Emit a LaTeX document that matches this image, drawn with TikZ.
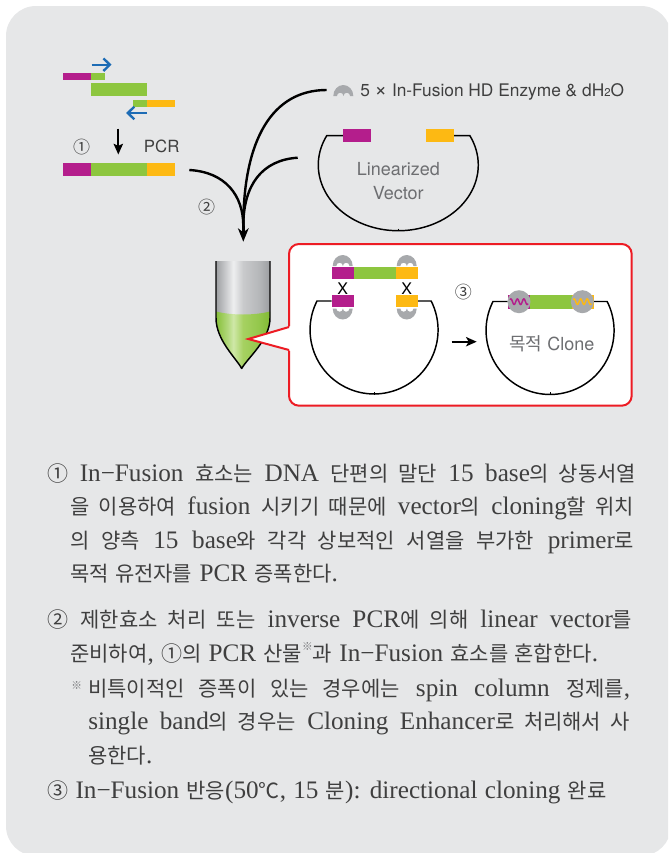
\documentclass[tikz,border=0pt]{standalone}
\usepackage{fontspec}
\setmainfont{Liberation Serif}[Scale=1.2, WordSpace=1.15]
\newfontfamily\kofont{Noto Sans CJK KR}[WordSpace=1.3]
\newfontfamily\lblfont{TeX Gyre Heros}
\newcommand\K[1]{{\kofont #1}}
\usetikzlibrary{arrows.meta}

\definecolor{bg}{HTML}{E6E7E8}
\definecolor{cmag}{HTML}{B41E8C}
\definecolor{cgrn}{HTML}{8DC63F}
\definecolor{cyel}{HTML}{FDB913}
\definecolor{enz}{HTML}{A7A9AC}
\definecolor{cblue}{HTML}{1D6CB5}
\definecolor{cred}{HTML}{ED1C24}
\definecolor{txt}{HTML}{3F3F3F}
\definecolor{lbl}{HTML}{6D6E71}
% tube body shading (grey glass and green liquid)
\definecolor{tgA}{HTML}{9D9FA2}\definecolor{tgB}{HTML}{D4D5D7}\definecolor{tgC}{HTML}{EEEFF0}
\definecolor{tgD}{HTML}{C9CACC}\definecolor{tgE}{HTML}{B5B7B9}\definecolor{tgF}{HTML}{9C9EA1}
\definecolor{tnA}{HTML}{86BF38}\definecolor{tnB}{HTML}{B3D97E}\definecolor{tnC}{HTML}{CFE8A8}
\definecolor{tnD}{HTML}{A6D161}\definecolor{tnE}{HTML}{93C74B}\definecolor{tnF}{HTML}{82BA33}
\pgfdeclarehorizontalshading{tubegray}{100bp}{color(0bp)=(tgA); color(25bp)=(tgA); color(36bp)=(tgB); color(41bp)=(tgC); color(50bp)=(tgD); color(65bp)=(tgE); color(75bp)=(tgF); color(100bp)=(tgF)}
\pgfdeclarehorizontalshading{tubegreen}{100bp}{color(0bp)=(tnA); color(25bp)=(tnA); color(36bp)=(tnB); color(41bp)=(tnC); color(50bp)=(tnD); color(65bp)=(tnE); color(75bp)=(tnF); color(100bp)=(tnF)}

\tikzset{
  bodytext/.style={anchor=base west, inner sep=0pt, text=txt, font=\fontsize{15.75}{20}\selectfont},
  numlabel/.style={inner sep=0pt, text=txt, font=\kofont\fontsize{12.75}{14}\selectfont},
  sanslabel/.style={inner sep=0pt, font=\lblfont\fontsize{13.5}{18}\selectfont},
  flowline/.style={line width=1.8pt, black},
  vecline/.style={line width=1.1pt, black},
  primerarrow/.style={cblue, line width=1.8pt, -{Straight Barb[length=4.8pt, width=9.5pt]}},
  enzyme/.pic={
    \fill[enz] (-10,0) arc[start angle=180, end angle=360, x radius=10, y radius=11]
      -- (6.8,0) arc[start angle=360, end angle=180, radius=3.3]
      arc[start angle=360, end angle=180, radius=3.3] -- cycle;
  },
}

\begin{document}
\begin{tikzpicture}[x=0.75pt, y=-0.75pt]
\useasboundingbox (0,0) rectangle (668,853);

% panel background
\begin{scope}
  \clip (0,0) rectangle (668,853);
  \fill[bg, rounded corners=22.5pt] (6,6) rectangle (671,856);
\end{scope}

% ---------- primers and PCR product ----------
\draw[primerarrow] (91.7,64.7) -- (111.5,64.7);
\fill[cmag] (63,73) rectangle (91,80);
\fill[cgrn] (91,73) rectangle (105,80);
\fill[cgrn] (91,83) rectangle (147,95.7);
\fill[cgrn] (133,100) rectangle (147,106.7);
\fill[cyel] (147,100) rectangle (175,106.7);
\draw[primerarrow] (147,113) -- (126.2,113);

\draw[line width=1.4pt, -{Stealth[length=8pt, width=7pt, inset=1.5pt]}] (118.3,128.5) -- (118.3,154.5);
\node[numlabel] (n1) at (81.7,146.7) {①};
\node[sanslabel, text=txt, font=\lblfont\fontsize{12.6}{14}\selectfont] (pcr) at (161.7,146.5) {PCR};

\fill[cmag] (63,162.7) rectangle (91,175.7);
\fill[cgrn] (91,162.7) rectangle (147,175.7);
\fill[cyel] (147,162.7) rectangle (175,175.7);

% ---------- enzyme mix ----------
\pic at (343.3,96) {enzyme};
\node[anchor=west, inner sep=0pt, text=txt, font=\lblfont\fontsize{13}{16}\selectfont] (enzlabel) at (360,91.7)
  {5 {\fontsize{16}{16}\selectfont ×} In-Fusion HD Enzyme \& dH{\fontsize{8.5}{8}\selectfont 2}O};

% ---------- linearized vector ----------
\draw[vecline] (343.3,135.7) -- (326.7,135.7)
  arc[start angle=206.5, end angle=-26.5, x radius=80, y radius=65.7] -- (454,135.7);
\draw[line width=0.6pt] (398.3,228.5) -- (398.3,231);
\fill[cmag] (343.3,129) rectangle (371,141.7);
\fill[cyel] (426,129) rectangle (454,141.7);
\node[sanslabel, text=lbl, align=center] (linvec) at (398.3,181) {Linearized\\Vector};

% ---------- mixing arrows ----------
\coordinate (enzL) at (326.7,90);
\coordinate (vecL) at (297.7,157.7);
\coordinate (pcrR) at (189.3,170);
\coordinate (merge) at (243.3,226);
\coordinate (tip) at (243.3,241.7);
\draw[flowline] (enzL) .. controls (272,90) and (243.3,140) .. (merge);
\draw[flowline] (vecL) .. controls (262,160) and (243.3,185) .. (merge);
\draw[flowline] (pcrR) .. controls (225,172) and (243.3,195) .. (merge);
\draw[line width=1.8pt, -{Stealth[length=10pt, width=8pt, inset=3pt]}] (merge) -- (tip);
\node[numlabel] (n2) at (206.7,206.7) {②};

% ---------- reaction tube ----------
\begin{scope}
  \clip (216,261) -- (216,318) .. controls (216,340) and (236,358) .. (241.7,368.5)
        .. controls (247.4,358) and (270,340) .. (270,318) -- (270,261) -- cycle;
  \shade[shading=tubegray] (216,258) rectangle (270,320);
  \shade[shading=tubegreen] (216,311.5) .. controls (232,315.5) and (254,315.5) .. (270,311.5)
        -- (270,372) -- (216,372) -- cycle;
\end{scope}
\draw[line width=1.1pt, line join=round] (216,261) -- (216,318) .. controls (216,340) and (236,358) .. (241.7,368.5)
        .. controls (247.4,358) and (270,340) .. (270,318) -- (270,261);

% ---------- magnified reaction ----------
\draw[cred, line width=1.5pt, fill=white, rounded corners=7.5pt] (289,244) rectangle (631.7,405.7);
\fill[white] (291.2,326) -- (248.3,339) -- (291.2,351) -- cycle;
\draw[cred, line width=1.5pt, line join=miter] (289,327) -- (248.3,339) -- (289,350);

% left: insert pairing with vector ends
\draw[vecline] (331.7,301) -- (317,301)
  arc[start angle=206.9, end angle=-26.9, radius=64] -- (417.7,301);
\draw[line width=0.6pt] (374,392) -- (374,394.5);
\fill[cmag] (331.7,266.7) rectangle (354,279.3);
\fill[cgrn] (354,266.7) rectangle (395.7,279.3);
\fill[cyel] (395.7,266.7) rectangle (417.7,279.3);
\fill[cmag] (331.7,295) rectangle (354,307.3);
\fill[cyel] (395.7,295) rectangle (417.7,307.3);
\pic at (342.7,266) {enzyme};
\pic at (406.7,266) {enzyme};
\pic[yscale=-1] at (342.7,308.5) {enzyme};
\pic[yscale=-1] at (406.7,308.5) {enzyme};
\node[inner sep=0pt, font=\lblfont\fontsize{12}{12}\selectfont] (xl) at (342.7,288.3) {X};
\node[inner sep=0pt, font=\lblfont\fontsize{12}{12}\selectfont] (xr) at (406.7,288.3) {X};

\node[numlabel] (n3) at (463.3,291.7) {③};
\coordinate (stepA) at (451.7,341.7);
\coordinate (stepB) at (476.7,341.7);
\draw[line width=1.5pt, -{Stealth[length=8pt, width=7pt, inset=2pt]}] (stepA) -- (stepB);

% right: closed target clone
\draw[vecline] (507.7,301.5) -- (493,301.5)
  arc[start angle=206.9, end angle=-26.9, radius=64] -- (594,301.5);
\draw[line width=0.6pt] (550,392) -- (550,394.5);
\fill[cmag] (507.7,295) rectangle (530,308.5);
\fill[cgrn] (530,295) rectangle (571.7,308.5);
\fill[cyel] (571.7,295) rectangle (594,308.5);
\fill[enz] (519,301.7) circle[radius=11.5];
\fill[enz] (582.3,301.7) circle[radius=11.5];
\draw[cmag, line width=1.1pt] plot[domain=-9:9, samples=60, smooth] ({\x+519}, {301.7 + 2.8*sin(\x*360/6.5)});
\draw[cyel, line width=1.1pt] plot[domain=-9:9, samples=60, smooth] ({\x+582.3}, {301.7 + 2.8*sin(\x*360/6.5)});
\node[sanslabel, text=lbl] (clone) at (551.7,344) {\K{목적} Clone};

% ---------- description ----------
\node[bodytext] (p1a) at (47,481) {\makebox[441.75pt][s]{\K{①} In−Fusion \K{효소는} DNA \K{단편의 말단} 15 base\K{의 상동서열}}};
\node[bodytext] (p1b) at (70,514.5) {\makebox[423pt][s]{\K{을 이용하여} fusion \K{시키기 때문에} vector\K{의} cloning\K{할 위치}}};
\node[bodytext] (p1c) at (70,548.5) {\makebox[423pt][s]{\K{의 양측} 15 base\K{와 각각 상보적인 서열을 부가한} primer\K{로}}};
\node[bodytext] (p1d) at (70,581.5) {\K{목적 유전자를} PCR \K{증폭한다}.};

\node[bodytext] (p2a) at (47,627.5) {\makebox[438.75pt][s]{\K{②} \K{제한효소 처리 또는} inverse PCR\K{에 의해} linear vector\K{를}}};
\node[bodytext] (p2b) at (70,661.5) {\K{준비하여}, \K{①의} PCR \K{산물}\raisebox{0.42em}{\color{lbl}\K{\fontsize{8}{8}\selectfont ※}}\K{과} In−Fusion \K{효소를 혼합한다}.};
\node[bodytext, text=lbl] (p2mark) at (71,689) {\K{\fontsize{8}{8}\selectfont ※}};
\node[bodytext] (p2c) at (88,696.5) {\makebox[406.5pt][s]{\K{비특이적인 증폭이 있는 경우에는} spin column \K{정제를},}};
\node[bodytext] (p2d) at (88,729.5) {\makebox[406.5pt][s]{single band\K{의 경우는} Cloning Enhancer\K{로 처리해서 사}}};
\node[bodytext] (p2e) at (88,763.5) {\K{용한다}.};
\node[bodytext] (p3) at (47,798.5) {\K{③} In−Fusion \K{반응}(50\K{℃}, 15 \K{분}): directional cloning \K{완료}};
\end{tikzpicture}
\end{document}
